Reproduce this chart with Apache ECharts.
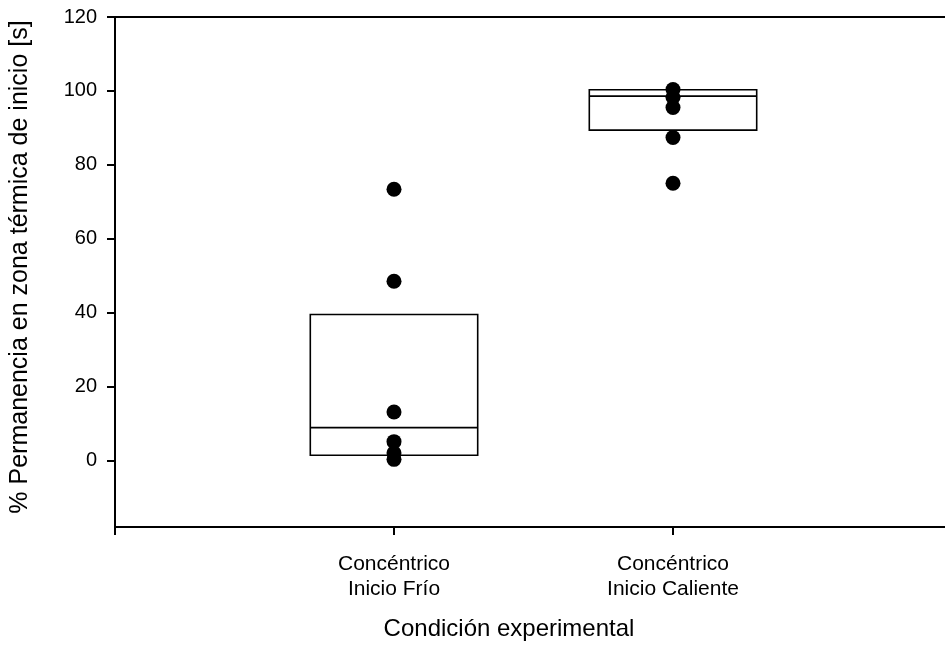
<!DOCTYPE html>
<html>
<head>
<meta charset="utf-8">
<script src="https://cdn.jsdelivr.net/npm/echarts@6/dist/echarts.min.js"></script>
<style>
html,body{margin:0;padding:0;background:#fff;}
#chart{width:945px;height:646px;}
</style>
</head>
<body>
<div id="chart"></div>
<script>
// Categories
var categories = ['Concéntrico\nInicio Frío', 'Concéntrico\nInicio Caliente'];
// Box percentiles (25th, median, 75th)
var q1 = [1.4, 89.4];
var median = [8.9, 98.6];
var q3 = [39.5, 100.3];
// Individual observations
var pointsFrio = [73.4, 48.5, 13.1, 5.1, 2.0, 0.3];
var pointsCaliente = [100.4, 98.3, 95.5, 87.4, 75.0];
// Y tick labels
var yTicks = [0, 20, 40, 60, 80, 100, 120];

var FONT = '"Liberation Sans", Arial, Helvetica, sans-serif';
var chart = echarts.init(document.getElementById('chart'), null, {renderer: 'canvas'});

var xData = [''].concat(categories).concat(['']);

var boxData = categories.map(function (c, i) { return [i + 1, q1[i], median[i], q3[i]]; });

var option = {
  backgroundColor: '#ffffff',
  animation: false,
  grid: {
    left: 115, width: 837, top: 17, bottom: 119,
    outerBoundsMode: 'none', containLabel: false,
    show: true, borderColor: '#000', borderWidth: 2, backgroundColor: 'transparent'
  },
  xAxis: {
    type: 'category',
    data: xData,
    boundaryGap: false,
    axisLine: {show: true, onZero: false, lineStyle: {color: '#000', width: 2}},
    axisTick: {show: true, interval: 0, length: 8, lineStyle: {color: '#000', width: 2}},
    axisLabel: {
      interval: 0, margin: 25, color: '#000', fontFamily: FONT, fontSize: 21, lineHeight: 25, align: 'center'
    },
    splitLine: {show: false}
  },
  yAxis: {
    type: 'value',
    min: -18, max: 120,
    axisLine: {show: true, lineStyle: {color: '#000', width: 2}},
    axisTick: {show: true, length: 8, customValues: yTicks, lineStyle: {color: '#000', width: 2}},
    axisLabel: {customValues: yTicks, margin: 18, color: '#000', fontFamily: FONT, fontSize: 20},
    splitLine: {show: false}
  },
  graphic: [
    {
      type: 'text', x: 509, y: 629,
      style: {text: 'Condición experimental', font: '24px ' + FONT, fill: '#000', textAlign: 'center', textVerticalAlign: 'middle'}
    },
    {
      type: 'text', x: 20, y: 267, rotation: Math.PI / 2,
      style: {text: '% Permanencia en zona térmica de inicio [s]', font: '25px ' + FONT, fill: '#000', textAlign: 'center', textVerticalAlign: 'middle'}
    }
  ],
  series: [
    {
      type: 'custom',
      data: boxData,
      z: 2,
      renderItem: function (params, api) {
        var x = api.value(0);
        var pTop = api.coord([x, api.value(3)]);
        var pBot = api.coord([x, api.value(1)]);
        var pMed = api.coord([x, api.value(2)]);
        var w = api.size([1, 0])[0] * 0.6;
        return {
          type: 'group',
          children: [
            {type: 'rect', shape: {x: pTop[0] - w / 2, y: pTop[1], width: w, height: pBot[1] - pTop[1]},
             style: {fill: 'none', stroke: '#000', lineWidth: 1.6}},
            {type: 'line', shape: {x1: pMed[0] - w / 2, y1: pMed[1], x2: pMed[0] + w / 2, y2: pMed[1]},
             style: {stroke: '#000', lineWidth: 1.6}}
          ]
        };
      }
    },
    {
      type: 'scatter', z: 3,
      symbol: 'circle', symbolSize: 15,
      itemStyle: {color: '#000', opacity: 1},
      data: pointsFrio.map(function (v) { return [1, v]; })
    },
    {
      type: 'scatter', z: 3,
      symbol: 'circle', symbolSize: 15,
      itemStyle: {color: '#000', opacity: 1},
      data: pointsCaliente.map(function (v) { return [2, v]; })
    }
  ]
};
chart.setOption(option);
</script>
</body>
</html>
